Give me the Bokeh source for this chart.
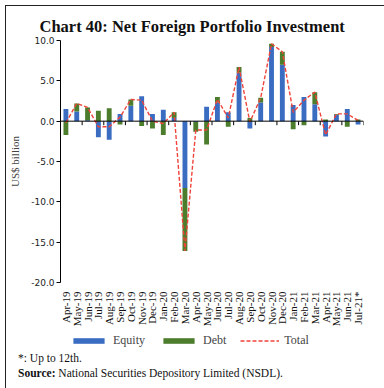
import math
from bokeh.plotting import figure
from bokeh.layouts import column
from bokeh.models import (Range1d, FixedTicker, Span, Legend, LegendItem, Div,
                          PrintfTickFormatter)
from bokeh.embed import file_html
from bokeh.resources import INLINE

months = ["Apr-19", "May-19", "Jun-19", "Jul-19", "Aug-19", "Sep-19", "Oct-19",
          "Nov-19", "Dec-19", "Jan-20", "Feb-20", "Mar-20", "Apr-20", "May-20",
          "Jun-20", "Jul-20", "Aug-20", "Sep-20", "Oct-20", "Nov-20", "Dec-20",
          "Jan-21", "Feb-21", "Mar-21", "Apr-21", "May-21", "Jun-21", "Jul-21*"]
equity = [1.5, 1.2, 0.1, -2.0, -2.3, 0.9, 1.9, 3.1, 0.9, 1.4, 0.4, -8.3, -0.1, 1.8,
          2.3, 1.1, 6.0, -0.9, 2.3, 9.2, 7.0, 2.0, 3.0, 2.1, -1.9, 0.8, 1.5, -0.4]
debt = [-1.7, 1.0, 1.6, 1.3, 1.6, -0.4, 0.8, -0.6, -0.9, -1.7, 0.7, -7.8, -1.2, -2.9,
        0.7, -0.7, 0.7, 0.4, 0.6, 0.4, 1.6, -1.0, -0.5, 1.5, 0.2, 0.1, -0.7, 0.2]
total = [-0.2, 2.2, 1.7, -0.7, -0.7, 0.5, 2.7, 2.6, 0.0, -0.3, 1.1, -16.1, -1.1, -1.1,
         2.7, 0.4, 6.7, -0.1, 2.9, 9.6, 8.6, 1.1, 2.6, 3.6, -1.7, 0.9, 0.9, 0.1]
y_ticks = [-20, -15, -10, -5, 0, 5, 10]
note = "*: Up to 12th."
source_head = "Source:"
source_text = "National Securities Depository Limited (NSDL)."

BLUE = "#3a6dc2"
GREEN = "#4c7d2d"
RED = "#f0433a"
SERIF = "Liberation Serif"

n = len(months)
x = list(range(n))
debt_bottom = [e if (e >= 0) == (d >= 0) else 0 for e, d in zip(equity, debt)]
debt_top = [b + d for b, d in zip(debt_bottom, debt)]

p = figure(width=372, height=323, output_backend="svg", toolbar_location=None,
           x_range=Range1d(-0.5, n - 0.5), y_range=Range1d(-20, 10),
           min_border_left=54, min_border_right=15, min_border_top=34,
           min_border_bottom=10)
p.outline_line_color = None
p.xgrid.visible = False
p.ygrid.visible = False
p.background_fill_color = "white"
p.border_fill_color = "white"

p.title.text = "Chart 40: Net Foreign Portfolio Investment"
p.title.align = "left"
p.title.offset = -21
p.title.standoff = 10
p.title.text_font = SERIF
p.title.text_font_size = "16.5px"
p.title.text_font_style = "bold"
p.title.text_color = "#111"

p.vbar(x=x, bottom=0, top=equity, width=0.45, fill_color=BLUE, line_color=None)
p.vbar(x=x, bottom=debt_bottom, top=debt_top, width=0.45,
       fill_color=GREEN, line_color=None)
p.line(x=x, y=total, line_color=RED, line_width=1.4, line_dash="4 2")

p.add_layout(Span(location=0, dimension="width", line_color="black", line_width=1))
bounds = [i + 0.5 for i in range(1, n, 2)]
p.segment(x0=bounds, x1=bounds, y0=[0] * len(bounds), y1=[-0.5] * len(bounds),
          line_color="black", line_width=1)

# y axis
ya = p.yaxis[0]
ya.ticker = FixedTicker(ticks=y_ticks)
ya.formatter = PrintfTickFormatter(format="%.1f")
ya.minor_tick_line_color = None
ya.major_tick_in = 0
ya.major_tick_out = 4
ya.major_label_standoff = 2
ya.major_label_text_font = "DejaVu Sans"
ya.major_label_text_font_size = "9px"
ya.major_label_text_color = "#222"
ya.axis_label = "US$ billion"
ya.axis_label_text_font = SERIF
ya.axis_label_text_font_style = "normal"
ya.axis_label_text_font_size = "11px"
ya.axis_label_standoff = 7
ya.axis_line_color = "black"

# x axis (labels only)
xa = p.xaxis[0]
xa.ticker = FixedTicker(ticks=x)
xa.major_label_overrides = {i: m for i, m in enumerate(months)}
xa.major_label_orientation = math.pi / 2
xa.axis_line_color = None
xa.major_tick_line_color = None
xa.minor_tick_line_color = None
xa.major_label_standoff = 3
xa.major_label_text_font = SERIF
xa.major_label_text_font_size = "11px"
xa.major_label_text_color = "#111"

# legend strip
f = figure(width=372, height=20, output_backend="svg", toolbar_location=None,
           x_range=Range1d(0, 1), y_range=Range1d(0, 1),
           x_axis_type=None, y_axis_type=None, min_border=0)
f.outline_line_color = None
f.xgrid.visible = False
f.ygrid.visible = False
f.border_fill_color = "white"
f.background_fill_color = "white"
d_eq = f.vbar(x=[-100], top=[0], width=0.5, fill_color=BLUE, line_color=None)
d_debt = f.vbar(x=[-100], top=[0], width=0.5, fill_color=GREEN, line_color=None)
d_tot = f.line(x=[-100, -99], y=[0, 0], line_color=RED, line_width=1.4,
               line_dash="4 2")

legend = Legend(items=[LegendItem(label="Equity", renderers=[d_eq]),
                       LegendItem(label="Debt", renderers=[d_debt]),
                       LegendItem(label="Total", renderers=[d_tot])],
                orientation="horizontal", location=(9, 1))
legend.border_line_color = None
legend.background_fill_alpha = 0
legend.label_text_font = SERIF
legend.label_text_font_size = "12px"
legend.glyph_width = 39
legend.glyph_height = 7
legend.spacing = 14
legend.padding = 2
legend.margin = 0
legend.label_standoff = 5
f.add_layout(legend)

notes = Div(
    text=(f'<div style="font-family:\'{SERIF}\';font-size:11.5px;line-height:15px;'
          f'color:#111;padding-left:7px;margin-top:-3px;">{note}<br>'
          f'<b>{source_head}</b> {source_text}</div>'),
    width=372, height=31, styles={"background": "white"})

layout = column(p, f, notes, spacing=0, margin=(5, 0, 0, 5),
                styles={"border": "1.5px solid #222", "background": "white"})

open("out.html", "w").write(file_html(layout, INLINE))
